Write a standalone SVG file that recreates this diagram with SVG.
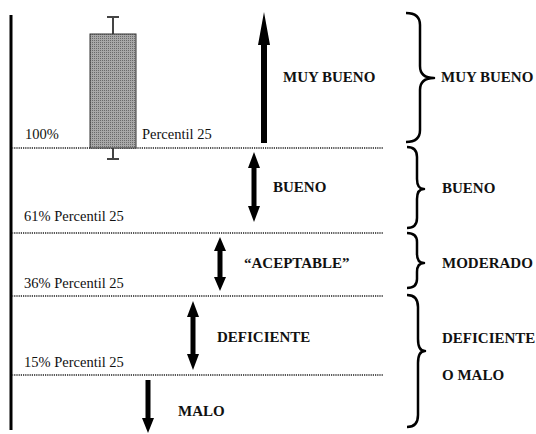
<svg xmlns="http://www.w3.org/2000/svg" width="536" height="434" viewBox="0 0 536 434">
<style>
text{font-family:'Liberation Serif','Times New Roman',Times,serif;fill:#111}
.lbl{font-size:14.5px}
.b{font-weight:bold;font-size:15px}
.dot{stroke:#555;stroke-width:2;stroke-dasharray:1.2 1}
.arr{fill:#000}
.brace{fill:none;stroke:#000;stroke-width:2.5;stroke-linejoin:round}
.wh{stroke:#444;stroke-width:2}
</style>
<defs>
<pattern id="grain" width="2" height="2" patternUnits="userSpaceOnUse">
<rect width="2" height="2" fill="#a8a8a8"/>
<rect width="1" height="1" fill="#6a6a6a"/>
</pattern>
</defs>
<rect width="536" height="434" fill="#fff"/>
<g id="axis"><line x1="11" y1="15" x2="11" y2="430" stroke="#000" stroke-width="3"/></g>
<g id="levels">
<line class="dot" x1="12" y1="148" x2="383" y2="148"/>
<line class="dot" x1="12" y1="233" x2="383" y2="233"/>
<line class="dot" x1="12" y1="296" x2="383" y2="296"/>
<line class="dot" x1="12" y1="375" x2="383" y2="375"/>
</g>
<g id="boxplot">
<line class="wh" x1="113" y1="17" x2="113" y2="34"/>
<line class="wh" x1="107" y1="17" x2="119" y2="17"/>
<line class="wh" x1="113" y1="148" x2="113" y2="159"/>
<line class="wh" x1="107" y1="159" x2="119" y2="159"/>
<rect x="90" y="34" width="46" height="114" fill="url(#grain)" stroke="#333" stroke-width="1"/>
</g>
<g id="left-labels" font-family="Liberation Serif, serif">
<text class="lbl" x="25" y="139">100%</text>
<text class="lbl" x="142" y="139">Percentil 25</text>
<text class="lbl" x="24" y="221">61% Percentil 25</text>
<text class="lbl" x="24" y="288">36% Percentil 25</text>
<text class="lbl" x="24" y="367">15% Percentil 25</text>
</g>
<g id="connectors">
<polygon class="arr" points="264,12 270,45 267,45 267,143 261,143 261,45 258,45"/>
<polygon class="arr" points="254,152 260,168 256.5,168 256.5,206 260,206 254,222 248,206 251.5,206 251.5,168 248,168"/>
<polygon class="arr" points="220,237 226,251 222.5,251 222.5,277 226,277 220,291 214,277 217.5,277 217.5,251 214,251"/>
<polygon class="arr" points="193,301 199,317 195.5,317 195.5,354 199,354 193,370 187,354 190.5,354 190.5,317 187,317"/>
<polygon class="arr" points="145.5,380 150.5,380 150.5,418 154,418 148,433 142,418 145.5,418"/>
</g>
<g id="arrow-labels">
<text class="b" x="283" y="82">MUY BUENO</text>
<text class="b" x="273" y="192">BUENO</text>
<text class="b" x="244" y="268">“ACEPTABLE”</text>
<text class="b" x="217" y="342">DEFICIENTE</text>
<text class="b" x="178" y="416">MALO</text>
</g>
<g id="brace-muybueno">
<path class="brace" d="M406,13 Q420,13 420,25 L420,66 Q420,78 434,78 Q420,78 420,90 L420,130 Q420,142 406,142"/>
<text class="b" x="441" y="82">MUY BUENO</text>
</g>
<g id="brace-bueno">
<path class="brace" d="M407,147 Q417,147 417,157 L417,179 Q417,189 424,189 Q417,189 417,199 L417,218 Q417,228 407,228"/>
<text class="b" x="442" y="193">BUENO</text>
</g>
<g id="brace-moderado">
<path class="brace" d="M407,233 Q417,233 417,242 L417,254 Q417,263 424,263 Q417,263 417,272 L417,279 Q417,288 407,288"/>
<text class="b" x="442" y="268">MODERADO</text>
</g>
<g id="brace-deficiente">
<path class="brace" d="M407,295 Q418,295 418,307 L418,339 Q418,351 425,351 Q418,351 418,363 L418,415 Q418,427 407,427"/>
<text class="b" x="442" y="343">DEFICIENTE</text>
<text class="b" x="442" y="380">O MALO</text>
</g>
</svg>
